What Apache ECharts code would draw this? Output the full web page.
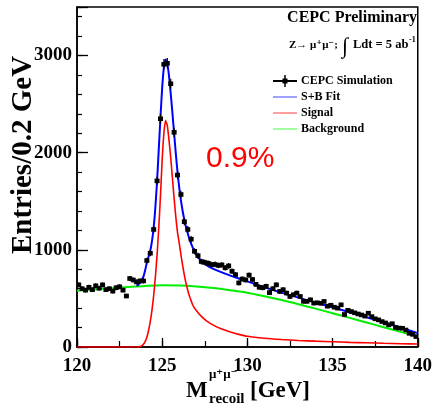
<!DOCTYPE html>
<html>
<head>
<meta charset="utf-8">
<script src="https://cdn.jsdelivr.net/npm/echarts@6/dist/echarts.min.js"></script>
<style>
  html, body { margin: 0; padding: 0; background: #fff; }
  #c { width: 435px; height: 411px; }
</style>
</head>
<body>
<div id="c"></div>
<script>
// Recoil mass histogram: bin centres (0.2 GeV bins) and entries
const binCenters = [
  120.1,120.3,120.5,120.7,120.9,121.1,121.3,121.5,121.7,121.9,
  122.1,122.3,122.5,122.7,122.9,123.1,123.3,123.5,123.7,123.9,
  124.1,124.3,124.5,124.7,124.9,125.1,125.3,125.5,125.7,125.9,
  126.1,126.3,126.5,126.7,126.9,127.1,127.3,127.5,127.7,127.9,
  128.1,128.3,128.5,128.7,128.9,129.1,129.3,129.5,129.7,129.9,
  130.1,130.3,130.5,130.7,130.9,131.1,131.3,131.5,131.7,131.9,
  132.1,132.3,132.5,132.7,132.9,133.1,133.3,133.5,133.7,133.9,
  134.1,134.3,134.5,134.7,134.9,135.1,135.3,135.5,135.7,135.9,
  136.1,136.3,136.5,136.7,136.9,137.1,137.3,137.5,137.7,137.9,
  138.1,138.3,138.5,138.7,138.9,139.1,139.3,139.5,139.7,139.9
];
const entries = [
  640,600,585,615,590,630,605,640,590,600,
  575,610,620,585,525,705,690,670,680,680,
  890,965,1210,1710,2350,2910,2920,2710,2210,1770,
  1570,1290,1210,1110,985,940,880,870,862,848,
  850,840,845,815,835,780,745,660,700,690,
  740,695,645,615,610,625,560,600,640,572,
  590,555,520,538,555,520,470,470,486,452,
  455,450,469,420,430,410,400,434,335,378,
  365,352,340,330,318,348,313,290,279,262,
  248,228,240,200,195,193,175,141,130,107
];

// S+B fit curve
const fitX = [123.5,123.6,123.7,123.8,123.9,124.0,124.1,124.2,124.3,124.4,124.5,124.6,124.7,124.8,124.9,
  125.0,125.1,125.2,125.3,125.4,125.5,125.6,125.7,125.8,125.9,126.0,126.1,126.2,126.3,126.4,126.5,126.6,
  126.8,127.0,127.3,127.6,128.0,128.5,129.0,129.5,130,131,132,133,134,135,136,137,138,139,140];
const fitY = [628,640,662,690,725,790,870,930,990,1090,1230,1440,1710,2040,2370,
  2670,2880,2960,2920,2790,2610,2410,2200,1990,1800,1640,1510,1400,1310,1235,1170,1110,
  1020,950,885,842,805,768,735,705,675,615,560,508,458,408,358,306,254,200,143];

// Signal component
const sigX = [120,123.6,123.7,123.8,123.9,124.0,124.1,124.2,124.3,124.4,124.5,124.6,124.7,124.8,124.9,
  125.0,125.1,125.2,125.3,125.4,125.5,125.6,125.7,125.8,125.9,126.0,126.1,126.2,126.3,126.4,126.5,126.6,
  126.8,127.0,127.3,127.6,128.0,128.5,129.0,129.5,130,131,132,133,134,135,136,137,138,139,140];
const sigY = [0,0,4,12,28,55,100,170,260,380,530,720,950,1230,1560,
  1930,2200,2330,2280,2130,1950,1740,1530,1340,1180,1070,950,840,740,655,585,525,
  430,375,315,270,225,185,155,130,110,90,77,67,60,54,48,43,38,34,31];

// Background component
const bkgX = [120,121,122,123,124,125,126,127,128,129,130,131,132,133,134,135,136,137,138,139,140];
const bkgY = [578,592,605,617,628,635,633,623,607,584,558,522,483,440,395,348,300,252,204,156,107];

// Axis ticks
const xLabelTicks = [120,125,130,135,140];
const yLabelTicks = [0,1000,2000,3000];

const pairs = (xs, ys) => xs.map((x, i) => [x, ys[i]]);
const serif = '"Liberation Serif", "DejaVu Serif", serif';
const sans = '"Liberation Sans", Arial, sans-serif';

const chart = echarts.init(document.getElementById('c'), null, { renderer: 'canvas' });

const axisLineStyle = { show: true, lineStyle: { color: '#000', width: 1.5 } };

const txt = (x, y, text, font, extra) => ({
  type: 'text', x, y,
  style: Object.assign({ text, font, fill: '#000', textAlign: 'left', textVerticalAlign: 'middle' }, extra || {})
});

const option = {
  animation: false,
  backgroundColor: '#fff',
  grid: { left: 77, right: 12, top: 7, bottom: 64, show: true, borderColor: '#000', borderWidth: 1.5, containLabel: false },
  xAxis: [
    {
      type: 'value', min: 120, max: 140, interval: 5,
      axisLine: axisLineStyle,
      axisTick: { show: true, inside: true, length: 9, lineStyle: { color: '#000', width: 1.3 } },
      axisLabel: {
        color: '#000', fontFamily: serif, fontWeight: 'bold', fontSize: 19, margin: 10,
        formatter: v => xLabelTicks.includes(v) ? String(v) : ''
      },
      splitLine: { show: false }
    },
    {
      type: 'value', min: 120, max: 140, interval: 2.5, position: 'bottom', offset: 0,
      axisLine: { show: false },
      axisTick: { show: true, inside: true, length: 6, lineStyle: { color: '#000', width: 1.2 } },
      axisLabel: { show: false },
      splitLine: { show: false }
    }
  ],
  yAxis: [
    {
      type: 'value', min: 0, max: 3500, interval: 1000,
      axisLine: axisLineStyle,
      axisTick: { show: true, inside: true, length: 11, lineStyle: { color: '#000', width: 1.3 } },
      axisLabel: {
        color: '#000', fontFamily: serif, fontWeight: 'bold', fontSize: 19, margin: 5,
        formatter: v => yLabelTicks.includes(v) ? String(v) : ''
      },
      splitLine: { show: false }
    },
    {
      type: 'value', min: 0, max: 3500, interval: 200, position: 'left', offset: 0,
      axisLine: { show: false },
      axisTick: { show: true, inside: true, length: 5, lineStyle: { color: '#000', width: 1.2 } },
      axisLabel: { show: false },
      splitLine: { show: false }
    }
  ],
  series: [
    {
      name: 'Background', type: 'line', data: pairs(bkgX, bkgY),
      showSymbol: false, smooth: 0.3, clip: true, z: 2,
      lineStyle: { color: '#00ee00', width: 2 }
    },
    {
      name: 'Signal', type: 'line', data: pairs(sigX, sigY),
      showSymbol: false, smooth: 0.2, clip: true, z: 3,
      lineStyle: { color: '#ff0000', width: 1.6 }
    },
    {
      name: 'S+B Fit', type: 'line', data: pairs(fitX, fitY),
      showSymbol: false, smooth: 0.2, clip: true, z: 4,
      lineStyle: { color: '#0000ff', width: 2 }
    },
    {
      name: 'CEPC Simulation', type: 'custom', clip: true, z: 5,
      data: pairs(binCenters, entries),
      renderItem: (params, api) => {
        const x = api.value(0), y = api.value(1);
        const p = api.coord([x, y]);
        const err = Math.sqrt(y);
        const hi = api.coord([x, y + err]);
        const lo = api.coord([x, y - err]);
        return {
          type: 'group',
          children: [
            { type: 'line', shape: { x1: p[0], y1: hi[1], x2: p[0], y2: lo[1] }, style: { stroke: '#000', lineWidth: 1.2 } },
            { type: 'rect', shape: { x: p[0] - 2.5, y: p[1] - 2.3, width: 5, height: 4.6 }, style: { fill: '#000' } }
          ]
        };
      }
    }
  ],
  graphic: [
    // axis titles
    {
      type: 'text', x: 24, y: 155, rotation: Math.PI / 2,
      style: { text: 'Entries/0.2 GeV', font: `bold 29px ${serif}`, fill: '#000', textAlign: 'center', textVerticalAlign: 'middle' }
    },
    txt(186, 391, 'M', `bold 23px ${serif}`),
    txt(209, 375, 'μ⁺μ⁻', `bold 13px ${serif}`),
    txt(209, 399, 'recoil', `bold 15px ${serif}`),
    txt(250, 391, '[GeV]', `bold 23px ${serif}`),

    // header texts
    txt(417, 18, 'CEPC Preliminary', `bold 16px ${serif}`, { textAlign: 'right' }),
    txt(289, 45, 'Z→ μ⁺μ⁻;', `bold 11px ${serif}`),
    txt(345, 47, '∫', `22px ${serif}`, { textAlign: 'center' }),
    txt(353, 45, 'Ldt = 5 ab', `bold 12.5px ${serif}`),
    txt(409, 40, '-1', `bold 8px ${serif}`),

    // legend
    { type: 'line', shape: { x1: 273, y1: 81, x2: 297, y2: 81 }, style: { stroke: '#000', lineWidth: 2 } },
    { type: 'line', shape: { x1: 285, y1: 75, x2: 285, y2: 87 }, style: { stroke: '#000', lineWidth: 1.5 } },
    { type: 'rect', shape: { x: 282.5, y: 78.5, width: 5, height: 5 }, style: { fill: '#000' } },
    txt(301, 81, 'CEPC Simulation', `bold 12px ${serif}`),
    { type: 'line', shape: { x1: 273, y1: 97, x2: 297, y2: 97 }, style: { stroke: '#8080ff', lineWidth: 1.5 } },
    txt(301, 97, 'S+B Fit', `bold 12px ${serif}`),
    { type: 'line', shape: { x1: 273, y1: 113, x2: 297, y2: 113 }, style: { stroke: '#ff8080', lineWidth: 1.5 } },
    txt(301, 113, 'Signal', `bold 12px ${serif}`),
    { type: 'line', shape: { x1: 273, y1: 129, x2: 297, y2: 129 }, style: { stroke: '#80ff80', lineWidth: 1.5 } },
    txt(301, 129, 'Background', `bold 12px ${serif}`),

    // resolution annotation
    txt(206, 159, '0.9%', `30px ${sans}`, { fill: '#ff0000' })
  ]
};

chart.setOption(option);
</script>
</body>
</html>
